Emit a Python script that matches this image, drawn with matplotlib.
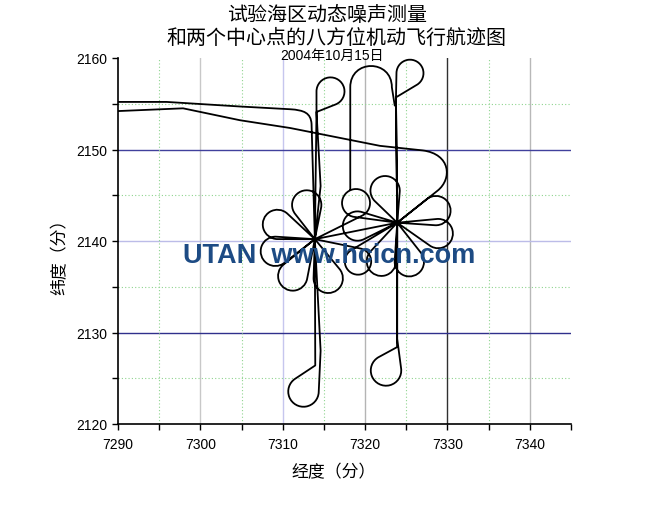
import numpy as np
import matplotlib
matplotlib.use("Agg")
import matplotlib.pyplot as plt
from matplotlib.path import Path
from matplotlib.patches import PathPatch

plt.rcParams['font.family'] = ['Liberation Sans', 'Noto Sans CJK SC', 'DejaVu Sans']

# track data, longitude / latitude in minutes
centre_a = (7313.9, 2140.2)
centre_b = (7323.9, 2142.0)

# far points of the petals flown out of each centre
petals_a = [(7312.5, 2145.5), (7307.7, 2142.4), (7307.4, 2138.4),
            (7310.3, 2134.8), (7316.1, 2134.4)]
petals_b = [(7321.8, 2147.0), (7330.3, 2143.8), (7330.6, 2140.4),
            (7325.9, 2136.2), (7321.3, 2136.3), (7317.3, 2141.5)]

# loops on the legs between A and B (circle centres)
link_loops = [(7318.9, 2144.15), (7319.14, 2137.76)]

# turn loops at the ends of the north-south runs: entry point, circle centre, exit point
turn_a_s = [(7314.6, 2128.0), (7312.52, 2123.55), (7313.95, 2126.4)]
turn_a_n = [(7314.1, 2154.1), (7315.8, 2156.35), (7314.1, 2154.1)]
turn_b_s = [(7323.9, 2129.3), (7322.54, 2125.85), (7323.88, 2128.4)]
turn_b_n = [(7323.75, 2155.7), (7325.45, 2158.34), (7323.75, 2155.7)]
turn_r = [1.85, 1.7, 1.85, 1.64]

# the two runs coming in from the west
west_upper_lon = [7290.0, 7295.9, 7304.8, 7310.9]
west_upper_lat = [2155.2, 2155.2, 2154.7, 2154.4]
west_lower_lon = [7290.0, 7297.9, 7304.8, 7310.9, 7321.8, 7327.0]
west_lower_lat = [2154.2, 2154.5, 2153.2, 2152.35, 2150.4, 2149.9]
upper_bend = [(7312.6, 2154.3), (7313.4, 2154.0), (7313.5, 2152.8)]
east_hook = [(7330.4, 2149.5), (7330.6, 2146.8), (7328.8, 2145.5)]

# tall arch north of the centres
arch_lon = [7318.2, 7323.25]
arch_lat = [2145.6, 2156.8, 2159.9]

petal_r = 1.78
link_r = [1.7, 1.6]

fig = plt.figure(figsize=(6.6, 5.1), dpi=100)
ax = fig.add_axes([118/660, 85/510, 453/660, 366/510])
xlim = (7290, 7345)
ylim = (2120, 2160)
ax.set_xlim(*xlim)
ax.set_ylim(*ylim)

# pixels per minute, so the loops come out round on screen
sx = 453 / (xlim[1] - xlim[0])
sy = 366 / (ylim[1] - ylim[0])

def iso(p):
    return np.array([p[0]*sx, p[1]*sy])

def back(q):
    return (q[0]/sx, q[1]/sy)

verts = []
codes = []

def move(p):
    verts.append(tuple(p)); codes.append(Path.MOVETO)

def line(p):
    verts.append(tuple(p)); codes.append(Path.LINETO)

def curve(c1, c2, p):
    verts.extend([tuple(c1), tuple(c2), tuple(p)]); codes.extend([Path.CURVE4]*3)

def circle_loop(p, cc, r, q, ccw=True):
    # straight leg from p onto the circle, round it, straight leg off to q
    P, C, Q = iso(p), iso(cc), iso(q)
    r = r * sx
    dp, dq = P - C, Q - C
    bp, bq = np.arctan2(dp[1], dp[0]), np.arctan2(dq[1], dq[0])
    ap = np.arccos(min(r / np.hypot(*dp), 0.999))
    aq = np.arccos(min(r / np.hypot(*dq), 0.999))
    if ccw:
        t0, t1 = bp + ap, bq - aq
        while t1 <= t0:
            t1 += 2*np.pi
    else:
        t0, t1 = bp - ap, bq + aq
        while t1 >= t0:
            t1 -= 2*np.pi
    line(back(C + r*np.array([np.cos(t0), np.sin(t0)])))
    n = int(np.ceil(abs(t1 - t0) / (np.pi/2)))
    step = (t1 - t0) / n
    k = 4/3*np.tan(step/4)*r
    for i in range(n):
        a0 = t0 + i*step
        a1 = a0 + step
        p0 = C + r*np.array([np.cos(a0), np.sin(a0)])
        p3 = C + r*np.array([np.cos(a1), np.sin(a1)])
        d0 = np.array([-np.sin(a0), np.cos(a0)])
        d1 = np.array([-np.sin(a1), np.cos(a1)])
        curve(back(p0 + k*d0), back(p3 - k*d1), back(p3))
    line(q)

def petal(c, tip):
    C, T = iso(c), iso(tip)
    e = (T - C) / np.hypot(*(T - C))
    circle_loop(c, back(T - petal_r*sx*e), petal_r, c)

def turn(spec, r, ccw):
    circle_loop(spec[0], spec[1], r, spec[2], ccw)

# west upper run, down the A line, petals at A, over to B and its petals
move((west_upper_lon[0], west_upper_lat[0]))
for x, y in zip(west_upper_lon[1:], west_upper_lat[1:]):
    line((x, y))
curve(*upper_bend)
line(centre_a)
line(turn_a_s[0])
turn(turn_a_s, turn_r[0], False)
line(centre_a)
line((7314.6, 2146.0))
line(turn_a_n[0])
turn(turn_a_n, turn_r[1], False)
line(centre_a)
for t in petals_a:
    petal(centre_a, t)
circle_loop(centre_a, link_loops[0], link_r[0], centre_b, True)
circle_loop(centre_b, link_loops[1], link_r[1], centre_a, True)
line(centre_b)
for t in petals_b:
    petal(centre_b, t)
line(turn_b_s[0])
turn(turn_b_s, turn_r[2], False)
line(centre_b)
line(turn_b_n[0])
turn(turn_b_n, turn_r[3], False)
line(centre_b)

# west lower run with the hook into B
move((west_lower_lon[0], west_lower_lat[0]))
for x, y in zip(west_lower_lon[1:], west_lower_lat[1:]):
    line((x, y))
curve(*east_hook)
line(centre_b)

# arch
move((arch_lon[0], arch_lat[0]))
line((arch_lon[0], arch_lat[1]))
curve((arch_lon[0], arch_lat[2]), (arch_lon[1], arch_lat[2]), (arch_lon[1], arch_lat[1]))
line((7323.6, 2154.8))

ax.add_patch(PathPatch(Path(verts, codes), fill=False, ec='black', lw=1.3,
                       joinstyle='round', capstyle='round', zorder=4))

# grid, coloured the way the original export came out
gx = [7300, 7310, 7320, 7330, 7340]
gx_col = ['#c8c8c8', '#c6c6ee', '#b4b4b4', '#303030', '#b8b8b8']
gy = [2150, 2140, 2130]
gy_col = ['#40409c', '#bcbce8', '#30308c']
for v, c in zip(gx, gx_col):
    ax.axvline(v, color=c, lw=1, zorder=1)
for v, c in zip(gy, gy_col):
    ax.axhline(v, color=c, lw=1, zorder=1)
for v in np.arange(7295, 7340, 10):
    ax.axvline(v, color='#8fd48f', lw=0.8, ls=(0, (1, 2)), zorder=1)
for v in np.arange(2125, 2160, 10):
    ax.axhline(v, color='#8fd48f', lw=0.8, ls=(0, (1, 2)), zorder=1)
ax.set_xticks(np.arange(7290, 7341, 10))
ax.set_yticks(np.arange(2120, 2161, 10))
ax.set_xticks(np.arange(7295, 7346, 10), minor=True)
ax.set_yticks(np.arange(2125, 2160, 10), minor=True)

for s in ['top', 'right']:
    ax.spines[s].set_visible(False)
for s in ['left', 'bottom']:
    ax.spines[s].set_linewidth(1.2)
ax.tick_params(which='both', direction='out', width=1, labelsize=10, pad=3)
ax.tick_params(which='major', length=4.5)
ax.tick_params(which='minor', length=4)
ax.tick_params(axis='x', pad=5)

ax.set_xlabel('经度（分）', fontsize=12.2, family=['Noto Sans CJK SC'])
ax.set_ylabel('纬度（分）', fontsize=12.2, family=['Noto Sans CJK SC'])
ax.xaxis.set_label_coords(0.475, -0.105)
ax.yaxis.set_label_coords(-0.11, 0.47)

fig.text(327/660, 1 - 15.5/510, '试验海区动态噪声测量', ha='center', va='center',
         fontsize=14.4, fontweight='light', family=['Noto Sans CJK SC'])
fig.text(336/660, 1 - 38.5/510, '和两个中心点的八方位机动飞行航迹图', ha='center',
         va='center', fontsize=14.4, fontweight='light', family=['Noto Sans CJK SC'])
fig.text(332/660, 1 - 55.5/510, '2004年10月15日', ha='center', va='center',
         fontsize=10, family=['Liberation Sans', 'Noto Sans CJK SC'])

fig.text(183/660, 1 - 263/510, 'UTAN  www.hcicn.com', ha='left', va='baseline',
         fontsize=19.5, fontweight='bold', color='#1d4b84', zorder=2)

fig.savefig('out.png', dpi=100)
